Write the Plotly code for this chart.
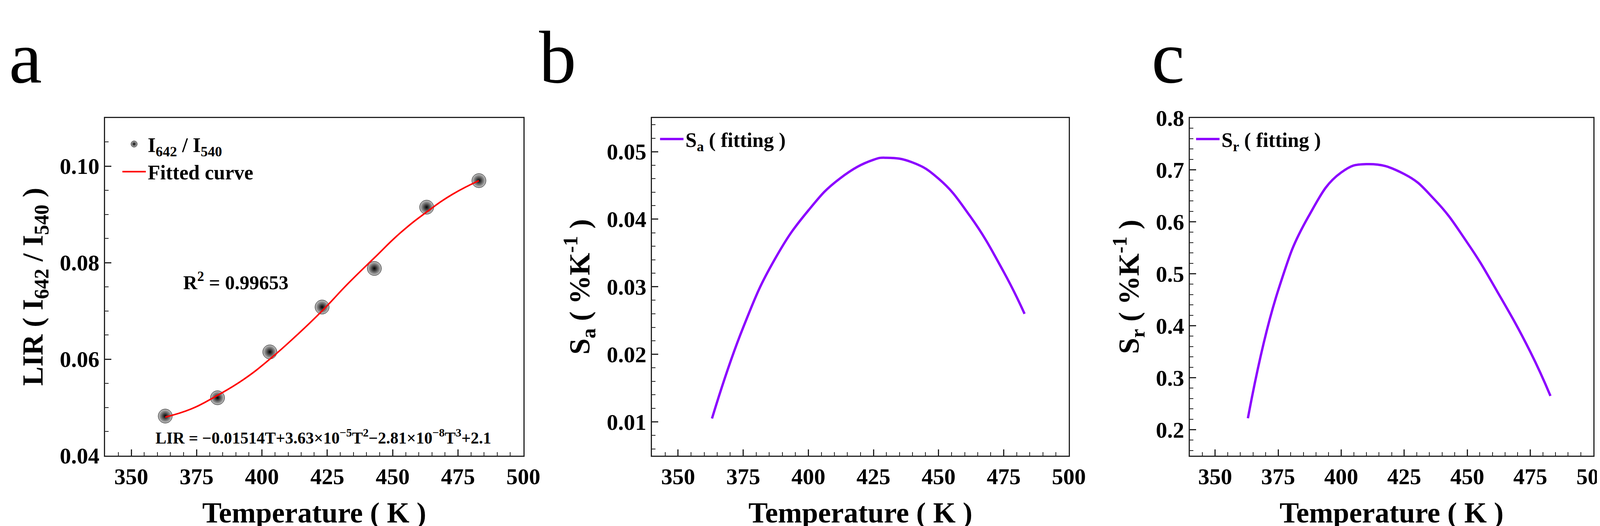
import plotly.graph_objects as go

# panel a: measured LIR and fitted curve
T_pts = [363, 383, 403, 423, 443, 463, 483]
LIR_pts = [0.0482, 0.0520, 0.0615, 0.0708, 0.0788, 0.0915, 0.0970]
T_fit = [363, 373, 383, 393, 403, 413, 423, 433, 443, 453, 463, 473, 483]
LIR_fit = [0.0480, 0.0497, 0.0525, 0.0558, 0.0600, 0.0648, 0.0700, 0.0757,
           0.0810, 0.0862, 0.0905, 0.0942, 0.0970]

# panel b: absolute sensitivity
T_sa = [363, 375, 387, 400, 412, 425, 430, 440, 450, 462, 475, 483]
Sa = [0.0105, 0.0240, 0.0340, 0.0413, 0.0460, 0.0488, 0.0491, 0.0484,
      0.0460, 0.0405, 0.0322, 0.0260]

# panel c: relative sensitivity
T_sr = [363, 375, 387, 400, 410, 425, 437, 450, 462, 475, 483]
Sr = [0.222, 0.468, 0.610, 0.695, 0.711, 0.692, 0.643, 0.560, 0.465, 0.350, 0.265]

FONT = "Liberation Serif"
PURPLE = "#8b00ff"

fig = go.Figure()
fig.add_trace(go.Scatter(x=T_pts, y=LIR_pts, mode="markers",
                         name="<b>I<sub>642</sub> / I<sub>540</sub></b>",
                         marker=dict(size=36, color="#c8c8c8",
                                     gradient=dict(type="radial", color="black"),
                                     line=dict(width=1, color="black")),
                         xaxis="x", yaxis="y", legend="legend"))
fig.add_trace(go.Scatter(x=T_fit, y=LIR_fit, mode="lines", name="<b>Fitted curve</b>",
                         line=dict(color="red", width=4, shape="spline", smoothing=1.3),
                         xaxis="x", yaxis="y", legend="legend"))
fig.add_trace(go.Scatter(x=T_sa, y=Sa, mode="lines",
                         name="<b>S<sub>a</sub> ( fitting )</b>",
                         line=dict(color=PURPLE, width=6, shape="spline", smoothing=1.3),
                         xaxis="x2", yaxis="y2", legend="legend2"))
fig.add_trace(go.Scatter(x=T_sr, y=Sr, mode="lines",
                         name="<b>S<sub>r</sub> ( fitting )</b>",
                         line=dict(color=PURPLE, width=6, shape="spline", smoothing=1.3),
                         xaxis="x3", yaxis="y3", legend="legend3"))

ydom = [0.121, 0.7957]
xdoms = [[0.0626, 0.3193], [0.3983, 0.6541], [0.7284, 0.976]]
yranges = [[0.04, 0.11], [0.005, 0.055], [0.15, 0.8]]
ydtick = [0.02, 0.01, 0.1]
ytitles = ["LIR ( I<sub>642</sub> / I<sub>540</sub> )",
           "S<sub>a</sub> ( %K<sup>-1</sup> )",
           "S<sub>r</sub> ( %K<sup>-1</sup> )"]
yfmt = [".2f", ".2f", ".1f"]

axcommon = dict(showline=True, linecolor="#222", linewidth=3, mirror=True,
                showgrid=False, zeroline=False, ticks="inside", ticklen=16,
                tickwidth=3, tickcolor="#222",
                minor=dict(ticks="inside", ticklen=9, tickwidth=2, tickcolor="#222"),
                tickprefix="<b>", ticksuffix="</b>",
                tickfont=dict(family=FONT, size=58, color="black"))

layout = dict(width=4215, height=1346, margin=dict(l=0, r=0, t=0, b=0),
              paper_bgcolor="white", plot_bgcolor="white",
              font=dict(family=FONT, color="black"))
for i in range(3):
    s = "" if i == 0 else str(i + 1)
    layout["xaxis" + s] = dict(axcommon, domain=xdoms[i], range=[340, 500], dtick=25,
                               anchor="y" + s,
                               title=dict(text="<b>Temperature ( K )</b>",
                                          font=dict(family=FONT, size=74), standoff=35))
    layout["yaxis" + s] = dict(axcommon, domain=ydom, range=yranges[i], dtick=ydtick[i],
                               anchor="x" + s, tickformat=yfmt[i],
                               title=dict(text="<b>" + ytitles[i] + "</b>",
                                          font=dict(family=FONT, size=74), standoff=20))
fig.update_layout(**layout)

leg = dict(bgcolor="rgba(0,0,0,0)", font=dict(family=FONT, size=52),
           xanchor="left", yanchor="top", tracegroupgap=0, itemwidth=60)
fig.update_layout(
    legend=dict(leg, x=0.072, y=0.775),
    legend2=dict(leg, x=0.402, y=0.785),
    legend3=dict(leg, x=0.731, y=0.785),
)

fig.add_annotation(x=390, y=0.0762, xref="x", yref="y", showarrow=False,
                   text="<b>R<sup>2</sup> = 0.99653</b>",
                   font=dict(family=FONT, size=50))
fig.add_annotation(x=423.5, y=0.0439, xref="x", yref="y", showarrow=False,
                   text="<b>LIR = \u22120.01514T+3.63\u00d710<sup>\u22125</sup>T<sup>2</sup>"
                        "\u22122.81\u00d710<sup>\u22128</sup>T<sup>3</sup>+2.1</b>",
                   font=dict(family=FONT, size=42))
for letter, xp in [("a", 0.003), ("b", 0.3285), ("c", 0.7045)]:
    fig.add_annotation(x=xp, y=1.0, xref="paper", yref="paper", xanchor="left",
                       yanchor="top", showarrow=False, text=letter,
                       font=dict(family=FONT, size=190))

fig.write_html("out.html")
